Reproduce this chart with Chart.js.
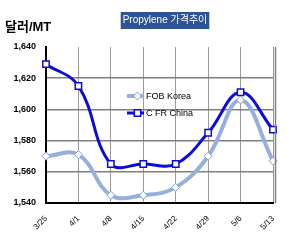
<!DOCTYPE html>
<html><head><meta charset="utf-8">
<script src="https://cdn.jsdelivr.net/npm/chart.js@4"></script>
<style>html,body{margin:0;padding:0;background:#fff}#wrap{width:304px;height:252px}</style>
</head><body><div id="wrap"><canvas id="c" width="304" height="252"></canvas></div>
<script>
const categories = ['3/25','4/1','4/8','4/15','4/22','4/29','5/6','5/13'];
const fobKorea = [1570,1571,1545,1545,1550,1570,1606,1567];
const cfrChina = [1629,1615,1565,1565,1565,1585,1611,1587];
const yMin = 1540, yMax = 1640, yStep = 20;
const seriesNames = ['FOB Korea','C FR China'];
const chartTitle = 'Propylene 가격추이';
const unitLabel = '달러/MT';

const FONT = "'Liberation Sans', Arial, sans-serif";

const decor = {
  id: 'decor',
  afterDraw(chart) {
    const ctx = chart.ctx;
    ctx.save();
    // title box
    ctx.font = "10px 'Liberation Sans', 'Noto Sans CJK KR', sans-serif";
    const tw = ctx.measureText(chartTitle).width;
    const cx = 165, ty = 20.5;
    ctx.fillStyle = '#2F5496';
    ctx.fillRect(cx - tw/2 - 2, 12, tw + 4, 17);
    ctx.fillStyle = '#ffffff';
    ctx.textAlign = 'center';
    ctx.textBaseline = 'middle';
    ctx.fillText(chartTitle, cx, ty);
    // unit label
    ctx.font = "bold 13px 'Liberation Sans', 'Noto Sans CJK KR', sans-serif";
    ctx.fillStyle = '#000';
    ctx.textAlign = 'left';
    ctx.fillText(unitLabel, 5, 27);
    // legend
    chart.data.datasets.forEach((ds, i) => {
      const y = 96 + i * 17;
      const x1 = 127, x2 = 144;
      ctx.strokeStyle = ds.borderColor;
      ctx.lineWidth = ds.borderWidth;
      ctx.beginPath(); ctx.moveTo(x1, y); ctx.lineTo(x2, y); ctx.stroke();
      ctx.fillStyle = ds.pointBackgroundColor;
      ctx.strokeStyle = ds.pointBorderColor;
      ctx.lineWidth = ds.pointBorderWidth;
      Chart.helpers.drawPoint(ctx, {pointStyle: ds.pointStyle, radius: ds.pointRadius, borderWidth: ds.pointBorderWidth, rotation: 0}, (x1 + x2) / 2 + 2, y);
      ctx.fillStyle = '#000';
      ctx.font = "9px " + FONT;
      ctx.textAlign = 'left';
      ctx.textBaseline = 'middle';
      ctx.fillText(seriesNames[i], x2 + 2, y + 0.5);
    });
    // right frame line
    const a = chart.chartArea;
    ctx.strokeStyle = '#808080';
    ctx.lineWidth = 1.5;
    ctx.beginPath(); ctx.moveTo(a.right + 2.5, a.top); ctx.lineTo(a.right + 2.5, a.bottom); ctx.stroke();
    ctx.restore();
  }
};

new Chart(document.getElementById('c'), {
  type: 'line',
  data: {
    labels: categories,
    datasets: [
      {
        label: seriesNames[0], data: fobKorea,
        borderColor: '#95B0DE', borderWidth: 4, tension: 0.4,
        pointStyle: 'rectRot', pointRadius: 4, pointBorderWidth: 1,
        pointBackgroundColor: '#ffffff', pointBorderColor: '#7F9CCF'
      },
      {
        label: seriesNames[1], data: cfrChina,
        borderColor: '#0C0CD8', borderWidth: 3, tension: 0.4,
        pointStyle: 'rect', pointRadius: 4.5, pointBorderWidth: 1.5,
        pointBackgroundColor: '#ffffff', pointBorderColor: '#0C0CD8'
      }
    ]
  },
  options: {
    responsive: false, animation: false, devicePixelRatio: 1,
    layout: { padding: { top: 47, right: 31, bottom: 0, left: 0 } },
    plugins: { legend: { display: false }, title: { display: false }, tooltip: { enabled: false } },
    scales: {
      x: {
        offset: false,
        grid: { color: '#9a9a9a', lineWidth: 1, drawTicks: false },
        border: { color: '#000', width: 2 },
        ticks: { minRotation: 45, maxRotation: 45, padding: 11, color: '#000', font: { family: FONT, size: 8 } },
        afterFit(s) { s.height = 49; }
      },
      y: {
        min: yMin, max: yMax,
        grid: { color: c => c.tick && c.tick.value === yMax ? 'rgba(0,0,0,0)' : '#808080', lineWidth: 1.5, drawTicks: false },
        border: { color: '#000', width: 2 },
        ticks: {
          stepSize: yStep, padding: 10, color: '#000',
          font: { family: FONT, size: 9, weight: 'bold' },
          callback: v => v.toLocaleString('en-US')
        },
        afterFit(s) { s.width = 46; }
      }
    }
  },
  plugins: [decor]
});
</script></body></html>
